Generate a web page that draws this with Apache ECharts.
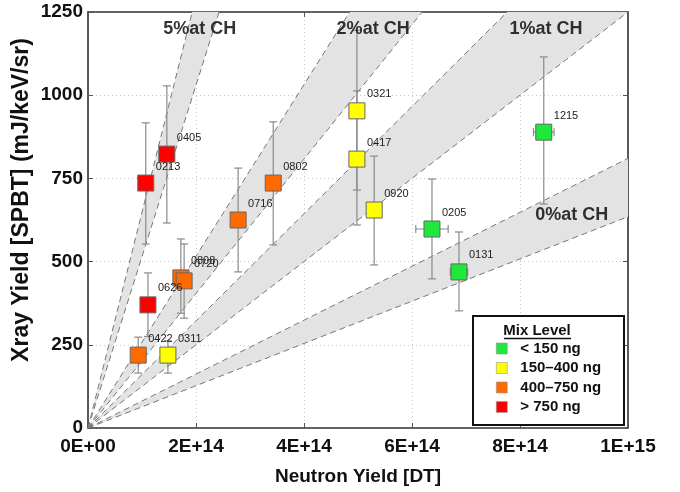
<!DOCTYPE html>
<html>
<head>
<meta charset="utf-8">
<script src="https://cdn.jsdelivr.net/npm/echarts@6/dist/echarts.min.js"></script>
<style>
  html, body { margin: 0; padding: 0; background: #fff; }
  #chart { width: 680px; height: 492px; }
</style>
</head>
<body>
<div id="chart"></div>
<script>
// ---------- data (x in units of 1E+14 neutrons) ----------
var shotIds = ['0213','0405','0626','0422','0311','0808','0720','0716','0802','0321','0417','0920','0205','0131','1215'];
var neutronYield = [1.07, 1.46, 1.11, 0.93, 1.48, 1.72, 1.78, 2.78, 3.43, 4.98, 4.98, 5.30, 6.37, 6.87, 8.44];
var xrayYield    = [736, 823, 370, 219, 219, 451, 442, 625, 736, 953, 808, 655, 598, 469, 889];
var xrayLow      = [553, 616, 275, 165, 165, 345, 330, 469, 550, 715, 610, 490, 448, 352, 673];
var xrayHigh     = [917, 1028, 466, 273, 262, 568, 553, 781, 920, 1195, 1013, 817, 748, 589, 1115];
var neutronErr   = [0, 0, 0, 0, 0, 0, 0, 0, 0, 0, 0, 0, 0.30, 0.16, 0.19];
var mixLevel     = [3, 3, 3, 2, 1, 2, 2, 2, 2, 1, 1, 1, 0, 0, 0];
var mixNames     = ['< 150 ng', '150\u2013400 ng', '400\u2013750 ng', '> 750 ng'];
var mixColors    = ['#1ee83a', '#ffff00', '#ff6a00', '#ff0000'];

// CH mix bands: [steep slope, shallow slope] in Xray per 1E+14
var bandNames  = ['5%at CH', '2%at CH', '1%at CH', '0%at CH'];
var bandSlopes = [[648, 515], [258, 202], [161, 125], [81, 63.5]];
var bandLabelX = [2.07, 5.28, 8.48, 8.96];
var bandLabelY = [1199, 1199, 1199, 640];

var xTickLabels = ['0E+00', '2E+14', '4E+14', '6E+14', '8E+14', '1E+15'];
var yTickLabels = ['0', '250', '500', '750', '1000', '1250'];
var X_MAX = 10, Y_MAX = 1250;

// ---------- build ----------
var chart = echarts.init(document.getElementById('chart'), null, { renderer: 'canvas' });

function lineEnd(s) {
  if (s * X_MAX <= Y_MAX) return [X_MAX, s * X_MAX];
  return [Y_MAX / s, Y_MAX];
}

function renderBand(params, api) {
  var s1 = api.value(2), s2 = api.value(3);
  var e1 = lineEnd(s1), e2 = lineEnd(s2);
  var pts = [[0, 0], e1];
  if (e1[1] === Y_MAX && e2[0] === X_MAX) pts.push([X_MAX, Y_MAX]);
  pts.push(e2);
  var px = pts.map(function (p) { return api.coord(p); });
  var o = api.coord([0, 0]);
  return {
    type: 'group',
    children: [
      { type: 'polygon', shape: { points: px }, style: { fill: '#e3e3e3', stroke: null } },
      { type: 'polyline', shape: { points: [o, api.coord(e1)] },
        style: { stroke: '#777', lineWidth: 1, lineDash: [6, 4], fill: null } },
      { type: 'polyline', shape: { points: [o, api.coord(e2)] },
        style: { stroke: '#777', lineWidth: 1, lineDash: [6, 4], fill: null } }
    ]
  };
}

function renderErr(params, api) {
  var x = api.value(0), y = api.value(1), lo = api.value(2), hi = api.value(3), xe = api.value(4);
  var pLo = api.coord([x, lo]), pHi = api.coord([x, hi]);
  var c = 4;
  var st = { stroke: '#8a8a8a', lineWidth: 1.2, fill: null };
  var ch = [
    { type: 'line', shape: { x1: pLo[0], y1: pLo[1], x2: pHi[0], y2: pHi[1] }, style: st },
    { type: 'line', shape: { x1: pLo[0] - c, y1: pLo[1], x2: pLo[0] + c, y2: pLo[1] }, style: st },
    { type: 'line', shape: { x1: pHi[0] - c, y1: pHi[1], x2: pHi[0] + c, y2: pHi[1] }, style: st }
  ];
  if (xe > 0) {
    var pL = api.coord([x - xe, y]), pR = api.coord([x + xe, y]);
    ch.push({ type: 'line', shape: { x1: pL[0], y1: pL[1], x2: pR[0], y2: pR[1] }, style: st });
    ch.push({ type: 'line', shape: { x1: pL[0], y1: pL[1] - c, x2: pL[0], y2: pL[1] + c }, style: st });
    ch.push({ type: 'line', shape: { x1: pR[0], y1: pR[1] - c, x2: pR[0], y2: pR[1] + c }, style: st });
  }
  return { type: 'group', children: ch };
}

var series = [];
series.push({
  type: 'custom', name: 'bands', renderItem: renderBand, silent: true, z: 1,
  encode: { x: 0, y: 1 },
  data: bandSlopes.map(function (b) { return [0, 0, b[0], b[1]]; })
});
series.push({
  type: 'custom', name: 'errors', renderItem: renderErr, silent: true, z: 2,
  encode: { x: 0, y: 1 },
  data: shotIds.map(function (_, i) {
    return [neutronYield[i], xrayYield[i], xrayLow[i], xrayHigh[i], neutronErr[i]];
  })
});
series.push({
  type: 'scatter', name: 'bandLabels', symbolSize: 0, silent: true, z: 4,
  data: bandNames.map(function (n, i) { return { value: [bandLabelX[i], bandLabelY[i]], name: n }; }),
  label: {
    show: true, position: 'inside', formatter: '{b}',
    fontFamily: 'Liberation Sans', fontWeight: 'bold', fontSize: 18, color: '#000'
  }
});
mixNames.forEach(function (mn, k) {
  var d = [];
  shotIds.forEach(function (id, i) {
    if (mixLevel[i] === k) d.push({ value: [neutronYield[i], xrayYield[i]], name: id });
  });
  series.push({
    type: 'scatter', name: mn, symbol: 'rect', symbolSize: 16, z: 5,
    itemStyle: { color: mixColors[k], borderColor: '#666', borderWidth: 1, opacity: 1 },
    label: {
      show: true, formatter: '{b}', position: [18.5, -8], align: 'left', verticalAlign: 'middle',
      fontFamily: 'Liberation Sans', fontSize: 11, color: '#222'
    },
    data: d
  });
});

var axisLineStyle = { color: '#333', width: 1.6 };
var option = {
  backgroundColor: '#fff',
  animation: false,
  grid: { left: 88, right: 52, top: 12, bottom: 64, containLabel: false },
  xAxis: [{
    type: 'value', min: 0, max: X_MAX, interval: 2,
    axisLine: { show: true, onZero: false, lineStyle: axisLineStyle },
    axisTick: { show: true, inside: true, length: 5, lineStyle: { color: '#555' } },
    axisLabel: {
      margin: 9, fontFamily: 'Liberation Sans', fontWeight: 'bold', fontSize: 19, color: '#111',
      formatter: function (v) { return xTickLabels[Math.round(v / 2)]; }
    },
    splitLine: { show: true, lineStyle: { color: '#c8c8c8', type: [1, 3], width: 1 } },
    name: 'Neutron Yield [DT]', nameLocation: 'middle', nameGap: 39,
    nameTextStyle: { fontFamily: 'Liberation Sans', fontWeight: 'bold', fontSize: 19, color: '#111' }
  }, {
    type: 'value', position: 'top', min: 0, max: X_MAX, interval: 2,
    axisLine: { show: true, onZero: false, lineStyle: axisLineStyle },
    axisTick: { show: true, inside: true, length: 5, lineStyle: { color: '#555' } },
    axisLabel: { show: false }, splitLine: { show: false }
  }],
  yAxis: [{
    type: 'value', min: 0, max: Y_MAX, interval: 250,
    axisLine: { show: true, onZero: false, lineStyle: axisLineStyle },
    axisTick: { show: true, inside: true, length: 5, lineStyle: { color: '#555' } },
    axisLabel: {
      margin: 5, fontFamily: 'Liberation Sans', fontWeight: 'bold', fontSize: 19, color: '#111',
      formatter: function (v) { return yTickLabels[Math.round(v / 250)]; }
    },
    splitLine: { show: true, lineStyle: { color: '#c8c8c8', type: [1, 3], width: 1 } }
  }, {
    type: 'value', position: 'right', min: 0, max: Y_MAX, interval: 250,
    axisLine: { show: true, onZero: false, lineStyle: axisLineStyle },
    axisTick: { show: true, inside: true, length: 5, lineStyle: { color: '#555' } },
    axisLabel: { show: false }, splitLine: { show: false }
  }],
  legend: {
    data: mixNames, orient: 'vertical', left: 496, top: 340, z: 30, zlevel: 0,
    padding: 0, itemWidth: 11, itemHeight: 11, itemGap: 2.5,
    icon: 'rect',
    itemStyle: { borderWidth: 0.6, borderColor: '#999' },
    textStyle: {
      fontFamily: 'Liberation Sans', fontWeight: 'bold', fontSize: 15, color: '#111',
      lineHeight: 17, padding: [0, 0, 0, 8]
    },
    selectedMode: false
  },
  graphic: [
    { type: 'rect', left: 472, top: 315, z: 10, silent: true,
      shape: { width: 151, height: 109 },
      style: { fill: '#fff', stroke: '#111', lineWidth: 2 } },
    { type: 'text', x: 537, y: 331, z: 20, silent: true,
      style: { text: 'Mix Level', fill: '#111', font: 'bold 15px "Liberation Sans"', textAlign: 'center', textVerticalAlign: 'middle' } },
    { type: 'line', z: 20, silent: true, shape: { x1: 504, y1: 338.5, x2: 571, y2: 338.5 },
      style: { stroke: '#111', lineWidth: 1.3 } },
    { type: 'text', x: 22, y: 200, rotation: Math.PI / 2, silent: true,
      style: { text: 'Xray Yield [SPBT] (mJ/keV/sr)', fill: '#111', font: 'bold 23px "Liberation Sans"', textAlign: 'center', textVerticalAlign: 'middle' } }
  ],
  series: series
};
chart.setOption(option);
</script>
</body>
</html>
